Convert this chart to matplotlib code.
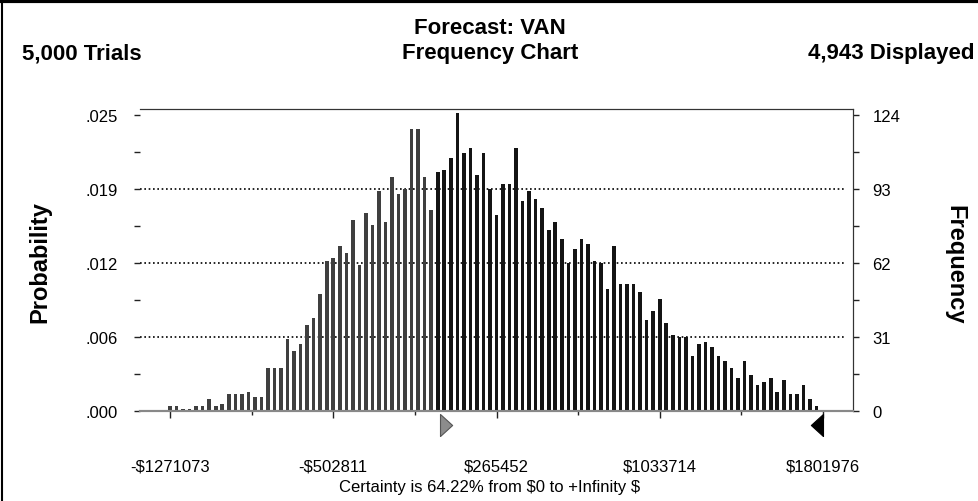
import numpy as np
import matplotlib
matplotlib.use('Agg')
import matplotlib.pyplot as plt
from matplotlib.lines import Line2D
from matplotlib.transforms import blended_transform_factory

# Valeurs (100 classes)
x_min = -1271073
x_max = 1801976
n_displayed = 4943
frequencies = [2, 2, 1, 1, 2, 2, 5, 2, 3, 7, 7, 7, 8, 6,
               6, 18, 18, 18, 30, 25, 28, 36, 39, 49,
               63, 64, 69, 66, 80, 61, 83, 78, 92, 79,
               98, 91, 93, 118, 118, 98, 84, 100, 101, 106,
               125, 108, 110, 99, 108, 93, 82, 95, 95, 110,
               88, 92, 89, 85, 76, 79, 72, 62, 68, 72,
               70, 63, 62, 51, 69, 53, 53, 53, 50, 38,
               42, 47, 37, 32, 31, 31, 23, 28, 29, 27,
               23, 21, 18, 14, 21, 15, 11, 12, 14, 8,
               13, 7, 7, 11, 5, 2]
freq_ticks = [0, 31, 62, 93, 124]
prob_labels = ['.000', '.006', '.012', '.019', '.025']
x_tick_labels = ['-$1271073', '-$502811', '$265452', '$1033714', '$1801976']
certainty_low = 0

plt.rcParams['font.family'] = ['Liberation Sans', 'DejaVu Sans']
plt.rcParams['text.parse_math'] = False

W, H = 979, 502
fig = plt.figure(figsize=(W / 100, H / 100), dpi=100)
fig.patch.set_facecolor('white')

# zone du graphique (en pixels)
left, right, top, bottom = 140, 853, 110, 412
ax = fig.add_axes([left / W, 1 - bottom / H, (right - left) / W, (bottom - top) / H])

span = x_max - x_min
bin_w = span / 100
centers = x_min + bin_w * np.arange(len(frequencies))
colors = ['#141414' if c + bin_w / 2 > certainty_low else '#3f3f3f' for c in centers]
ax.bar(centers, frequencies, width=bin_w * 0.55, color=colors, zorder=3)

px_per_unit = 653 / span
pad = 30 / px_per_unit
ax.set_xlim(x_min - pad, x_max + pad)
ax.set_ylim(0, 126.5)

# grille pointillée
for f in freq_ticks[1:4]:
    ax.axhline(f, xmax=0.99, color='black', linestyle=(0, (1, 1.6)), linewidth=1.2, zorder=1)

# axe x
ax.set_xticks([x_min + k * span / 4 for k in range(5)])
ax.set_xticklabels(x_tick_labels, fontsize=12)
ax.set_xticks([x_min + k * span / 8 for k in range(1, 8, 2)], minor=True)
ax.tick_params(axis='x', which='major', length=5, width=1, direction='out', pad=29, color='#222222')
ax.tick_params(axis='x', which='minor', length=3, width=1, direction='out', color='#222222')

# axe gauche : probabilité
ax.set_yticks(freq_ticks)
ax.set_yticklabels(prob_labels, fontsize=12)
ax.set_yticks(np.arange(15.5, 124, 31), minor=True)
ax.tick_params(axis='y', which='both', length=4, width=1, direction='out', pad=12, color='#222222')

# axe droit : fréquence
ax2 = ax.twinx()
ax2.set_ylim(ax.get_ylim())
ax2.set_yticks(freq_ticks)
ax2.set_yticklabels([str(f) for f in freq_ticks], fontsize=12)
ax2.set_yticks(np.arange(15.5, 124, 31), minor=True)
ax2.tick_params(axis='y', which='both', length=4, width=1, direction='out', pad=10, color='#222222')

for a in (ax, ax2):
    a.spines['top'].set_color('#333333')
    a.spines['right'].set_color('#333333')
    a.spines['left'].set_visible(False)
    a.spines['bottom'].set_color('#888888')
    a.spines['bottom'].set_linewidth(1.5)

# marqueurs de certitude
tr = blended_transform_factory(ax.transData, ax.transAxes)
ax.plot([certainty_low], [-0.047], transform=tr, clip_on=False,
        marker=[(0, -1), (0, 1), (1.1, 0), (0, -1)], markersize=17.5,
        markerfacecolor='#8c8c8c', markeredgecolor='#555555', markeredgewidth=0.8)
ax.plot([x_max], [-0.047], transform=tr, clip_on=False,
        marker=[(0, -1), (0, 1), (-1.1, 0), (0, -1)], markersize=17.5,
        markerfacecolor='black', markeredgecolor='black', markeredgewidth=0.8)

# textes
fig.text(490 / W, 1 - 28 / H, 'Forecast: VAN', ha='center', va='center', fontsize=16, fontweight='bold')
fig.text(22 / W, 1 - 54 / H, '5,000 Trials', ha='left', va='center', fontsize=16, fontweight='bold')
fig.text(490 / W, 1 - 54 / H, 'Frequency Chart', ha='center', va='center', fontsize=16, fontweight='bold')
fig.text(975 / W, 1 - 54 / H, '4,943 Displayed', ha='right', va='center', fontsize=16, fontweight='bold')
fig.text(40 / W, 1 - 262 / H, 'Probability', ha='center', va='center', rotation=90, fontsize=17, fontweight='bold')
fig.text(955 / W, 1 - 265 / H, 'Frequency', ha='center', va='center', rotation=270, fontsize=17, fontweight='bold')
fig.text(490 / W, 1 - 488 / H, 'Certainty is 64.22% from $0 to +Infinity $', ha='center', va='center', fontsize=12)

# cadre de la figure
fig.add_artist(Line2D([0, 1], [1 - 1.5 / H, 1 - 1.5 / H], transform=fig.transFigure, color='black', linewidth=3))
fig.add_artist(Line2D([2.5 / W, 2.5 / W], [0, 1], transform=fig.transFigure, color='black', linewidth=1.5))

fig.savefig('out.png', dpi=100)
